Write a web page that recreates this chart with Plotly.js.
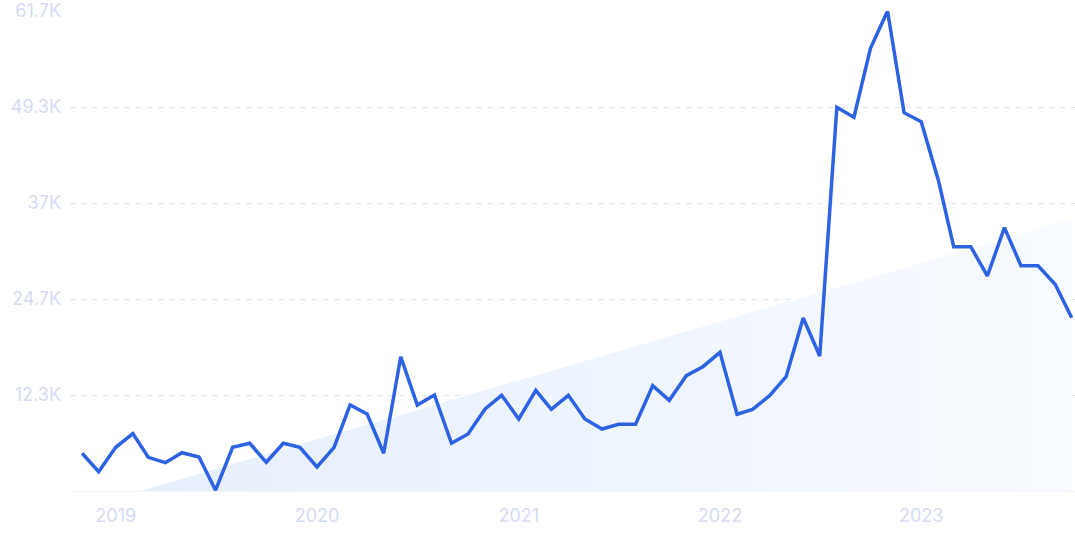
<!DOCTYPE html>
<html>
<head>
<meta charset="utf-8">
<script src="https://cdn.plot.ly/plotly-3.0.1.min.js"></script>
<style>
html,body{margin:0;padding:0;background:#fff;}
#chart{width:1075px;height:537px;}
</style>
</head>
<body>
<div id="chart"></div>
<script>
// Monthly values, Nov 2018 .. Oct 2023
const months = [
 '2018-11-01','2018-12-01',
 '2019-01-01','2019-02-01','2019-03-01','2019-04-01','2019-05-01','2019-06-01','2019-07-01','2019-08-01','2019-09-01','2019-10-01','2019-11-01','2019-12-01',
 '2020-01-01','2020-02-01','2020-03-01','2020-04-01','2020-05-01','2020-06-01','2020-07-01','2020-08-01','2020-09-01','2020-10-01','2020-11-01','2020-12-01',
 '2021-01-01','2021-02-01','2021-03-01','2021-04-01','2021-05-01','2021-06-01','2021-07-01','2021-08-01','2021-09-01','2021-10-01','2021-11-01','2021-12-01',
 '2022-01-01','2022-02-01','2022-03-01','2022-04-01','2022-05-01','2022-06-01','2022-07-01','2022-08-01','2022-09-01','2022-10-01','2022-11-01','2022-12-01',
 '2023-01-01','2023-02-01','2023-03-01','2023-04-01','2023-05-01','2023-06-01','2023-07-01','2023-08-01','2023-09-01','2023-10-01'
];
const volume = [
 4850, 2480,
 5620, 7370, 4330, 3640, 4920, 4370, 100, 5620, 6130, 3690, 6130, 5620,
 3090, 5620, 11050, 9900, 4850, 17260, 11050, 12340, 6130, 7330, 10540, 12300,
 9260, 12940, 10500, 12300, 9260, 7970, 8570, 8570, 13540, 11660, 14820, 15980,
 17830, 9860, 10500, 12250, 14690, 22240, 17350, 49320, 48040, 56900, 61700, 48630,
 47470, 39980, 31400, 31400, 27640, 33850, 28960, 28960, 26570, 22280
];
// Trend band (linear trend from first to last month)
const trendX = ['2018-11-01', '2023-10-01'];
const trendY = [-2180, 34970];
// Axis ticks
const yTickVals = [12340, 24680, 37020, 49360, 61700];
const yTickText = ['12.3K', '24.7K', '37K', '49.3K', '61.7K'];

const labelColor = '#d5dcf2';
const traces = [
 {
  x: trendX, y: trendY, type: 'scatter', mode: 'lines',
  line: {width: 0, color: 'rgba(0,0,0,0)'},
  fill: 'tozeroy',
  fillgradient: {type: 'horizontal', colorscale: [[0, 'rgb(229,238,252)'], [1, 'rgb(248,251,255)']]},
  hoverinfo: 'skip', showlegend: false
 },
 {
  x: months, y: volume, type: 'scatter', mode: 'lines',
  line: {color: '#2d62e2', width: 3.5},
  showlegend: false
 }
];
const layout = {
 width: 1075, height: 537,
 margin: {l: 70, r: 0, t: 11, b: 46},
 paper_bgcolor: '#ffffff', plot_bgcolor: '#ffffff',
 font: {family: 'Inter, sans-serif', size: 18, color: labelColor},
 xaxis: {
  type: 'date',
  range: ['2018-10-10', '2023-10-07'],
  dtick: 'M12', tick0: '2019-01-01', tickformat: '%Y',
  showgrid: false, zeroline: false,
  showline: true, linecolor: '#f3f5fa', linewidth: 1,
  ticks: '', ticklabelstandoff: 8,
  tickfont: {family: 'Inter, sans-serif', size: 18, color: labelColor}
 },
 yaxis: {
  range: [0, 61700],
  tickvals: yTickVals, ticktext: yTickText,
  showgrid: true, gridcolor: '#dbe3f6', griddash: '5px,6px', gridwidth: 1,
  zeroline: false, showline: false,
  ticks: '', ticklabelstandoff: 8,
  tickfont: {family: 'Inter, sans-serif', size: 18, color: labelColor}
 }
};
Plotly.newPlot('chart', traces, layout, {displayModeBar: false, staticPlot: true});
</script>
</body>
</html>
